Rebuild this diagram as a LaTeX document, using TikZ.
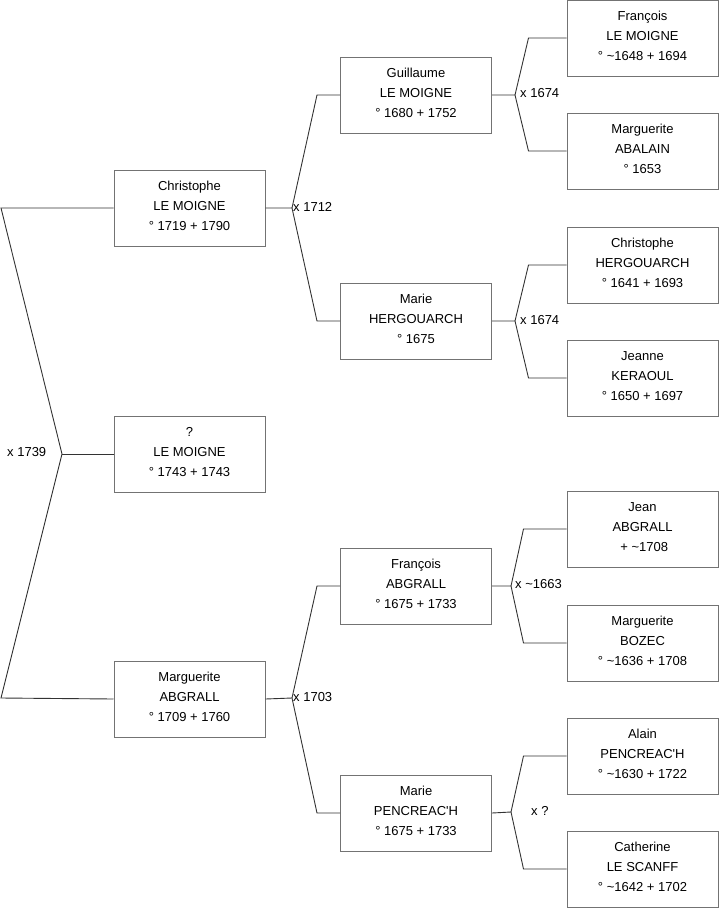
\documentclass[tikz,border=0pt]{standalone}
\usepackage{fontspec}
\setmainfont{Liberation Sans}
\begin{document}
\begin{tikzpicture}[x=1pt,y=-1pt,
  person/.style={draw=black!55, line width=1pt, fill=white, minimum width=151pt, minimum height=76pt, inner sep=0pt, align=center, text depth=4pt, font=\fontsize{13}{20}\selectfont},
  link/.style={draw=black!80, line width=0.9pt},
  lbl/.style={anchor=west, inner sep=0pt, font=\fontsize{13}{15}\selectfont}]
\useasboundingbox (0,0) rectangle (719,908);
% column 1
\node[person] (c1) at (189.5,208) {Christophe\\LE MOIGNE\\° 1719 + 1790};
\node[person] (q)  at (189.5,454) {?\\LE MOIGNE\\° 1743 + 1743};
\node[person] (m1) at (189.5,699) {Marguerite\\ABGRALL\\° 1709 + 1760};
% column 2
\node[person] (g)  at (416,95)  {Guillaume\\LE MOIGNE\\° 1680 + 1752};
\node[person] (mh) at (416,321) {Marie\\HERGOUARCH\\° 1675};
\node[person] (fa) at (416,586) {François\\ABGRALL\\° 1675 + 1733};
\node[person] (mp) at (416,813) {Marie\\PENCREAC\textquotesingle H\\° 1675 + 1733};
% column 3
\node[person] (f)  at (642.5,38)  {François\\LE MOIGNE\\° \textasciitilde1648 + 1694};
\node[person] (ma) at (642.5,151) {Marguerite\\ABALAIN\\° 1653};
\node[person] (ch) at (642.5,265) {Christophe\\HERGOUARCH\\° 1641 + 1693};
\node[person] (jk) at (642.5,378) {Jeanne\\KERAOUL\\° 1650 + 1697};
\node[person] (ja) at (642.5,529) {Jean\\ABGRALL\\\ + \textasciitilde1708};
\node[person] (mb) at (642.5,643) {Marguerite\\BOZEC\\° \textasciitilde1636 + 1708};
\node[person] (ap) at (642.5,756) {Alain\\PENCREAC\textquotesingle H\\° \textasciitilde1630 + 1722};
\node[person] (cs) at (642.5,869) {Catherine\\LE SCANFF\\° \textasciitilde1642 + 1702};
% root junction
\coordinate (r1) at (1,208);
\coordinate (r0) at (62,454);
\coordinate (r2) at (1,698);
\draw[link] (c1.west) -- (r1) -- (r0) -- (r2) -- (m1.west);
\draw[link] (r0) -- (q.west);
\node[lbl] (l0) at (7,452) {x 1739};
% Christophe
\coordinate (j1) at (292,208);
\draw[link] (c1.east) -- (j1) -- ([xshift=-23pt]g.west) -- (g.west);
\draw[link] (j1) -- ([xshift=-23pt]mh.west) -- (mh.west);
\node[lbl] (l1) at (293,207) {x 1712};
% Marguerite ABGRALL
\coordinate (j2) at (292,698);
\draw[link] (m1.east) -- (j2) -- ([xshift=-23pt]fa.west) -- (fa.west);
\draw[link] (j2) -- ([xshift=-23pt]mp.west) -- (mp.west);
\node[lbl] (l2) at (293,697) {x 1703};
% Guillaume
\coordinate (j3) at (515,95);
\draw[link] (g.east) -- (j3) -- ([xshift=-38pt]f.west) -- (f.west);
\draw[link] (j3) -- ([xshift=-38pt]ma.west) -- (ma.west);
\node[lbl] (l3) at (520,93) {x 1674};
% Marie Hergouarch
\coordinate (j4) at (515,321);
\draw[link] (mh.east) -- (j4) -- ([xshift=-38pt]ch.west) -- (ch.west);
\draw[link] (j4) -- ([xshift=-38pt]jk.west) -- (jk.west);
\node[lbl] (l4) at (520,320) {x 1674};
% Francois Abgrall
\coordinate (j5) at (511,586);
\draw[link] (fa.east) -- (j5) -- ([xshift=-43pt]ja.west) -- (ja.west);
\draw[link] (j5) -- ([xshift=-43pt]mb.west) -- (mb.west);
\node[lbl] (l5) at (515,584) {x \textasciitilde1663};
% Marie Pencreac'h
\coordinate (j6) at (511,812);
\draw[link] (mp.east) -- (j6) -- ([xshift=-43pt]ap.west) -- (ap.west);
\draw[link] (j6) -- ([xshift=-43pt]cs.west) -- (cs.west);
\node[lbl] (l6) at (531,811) {x ?};
\end{tikzpicture}
\end{document}
